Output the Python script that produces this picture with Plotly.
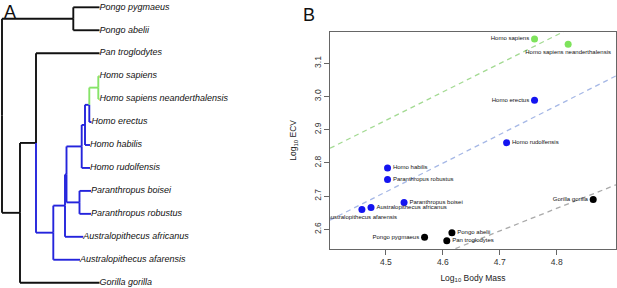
import plotly.graph_objects as go

# ---------------- Panel A data: phylogeny ----------------
tip_names = [
    "Pongo pygmaeus", "Pongo abelii", "Pan troglodytes", "Homo sapiens",
    "Homo sapiens neanderthalensis", "Homo erectus", "Homo habilis",
    "Homo rudolfensis", "Paranthropus boisei", "Paranthropus robustus",
    "Australopithecus africanus", "Australopithecus afarensis", "Gorilla gorilla",
]
edge_parent = ["root", "Pongo", "Pongo", "root", "Homininae", "Homininae", "PanHom", "PanHom",
               "N1", "N1", "Nafr", "Nafr", "NHP", "Par", "Par", "NHP", "H1", "H1", "H2", "H2",
               "H3", "H3", "H4", "H4"]
edge_child = ["Pongo", "Pongo pygmaeus", "Pongo abelii", "Homininae", "Gorilla gorilla", "PanHom",
              "Pan troglodytes", "N1", "Australopithecus afarensis", "Nafr",
              "Australopithecus africanus", "NHP", "Par", "Paranthropus boisei",
              "Paranthropus robustus", "H1", "Homo rudolfensis", "H2", "Homo habilis", "H3",
              "Homo erectus", "H4", "Homo sapiens", "Homo sapiens neanderthalensis"]
edge_length = [71.3, 26.2, 26.2, 18.0, 79.5, 16.0, 63.5, 17.3,
               26.7, 11.7, 18.3, 1.5, 13.0, 11.5, 11.5, 15.2, 8.3, 3.3, 5.0, 4.3,
               2.2, 9.0, 1.2, 1.2]
edge_clade = ["ape", "ape", "ape", "ape", "ape", "ape", "ape", "hominin",
              "hominin", "hominin", "hominin", "hominin", "hominin", "hominin", "hominin",
              "hominin", "hominin", "hominin", "hominin", "hominin",
              "hominin", "sapiens", "sapiens", "sapiens"]

# ---------------- Panel B data ----------------
species = ["Homo sapiens", "Homo sapiens neanderthalensis", "Homo erectus", "Homo rudolfensis",
           "Homo habilis", "Paranthropus robustus", "Paranthropus boisei",
           "Australopithecus africanus", "Australopithecus afarensis", "Gorilla gorilla",
           "Pongo abelii", "Pongo pygmaeus", "Pan troglodytes"]
log_body_mass = [4.761, 4.820, 4.761, 4.712, 4.503, 4.503, 4.532, 4.474, 4.458, 4.864,
                 4.616, 4.568, 4.607]
log_ecv = [3.173, 3.157, 2.989, 2.861, 2.785, 2.750, 2.681, 2.666, 2.660, 2.690,
           2.590, 2.576, 2.566]
species_clade = ["sapiens", "sapiens", "hominin", "hominin", "hominin", "hominin", "hominin",
                 "hominin", "hominin", "ape", "ape", "ape", "ape"]
fit_clade = ["sapiens", "hominin", "ape"]
fit_intercept = [-0.924, -1.1775, -0.6055]
fit_slope = [0.856, 0.8645, 0.681]
x_ticks = [4.5, 4.6, 4.7, 4.8]
y_ticks = [2.6, 2.7, 2.8, 2.9, 3.0, 3.1]

# ---------------- styles ----------------
W, H = 617, 288
FONT = "Liberation Sans, Arial, Helvetica, sans-serif"
tree_color = {"ape": "#111111", "hominin": "#2424DC", "sapiens": "#86E468"}
point_color = {"ape": "#000000", "hominin": "#1414F0", "sapiens": "#7EE35C"}
fit_color = {"sapiens": "#A3DA92", "hominin": "#A6B8E6", "ape": "#AAAAAA"}
label_pos = {
    "Homo sapiens": "middle left", "Homo sapiens neanderthalensis": "bottom center",
    "Homo erectus": "middle left", "Homo rudolfensis": "middle right",
    "Homo habilis": "middle right", "Paranthropus robustus": "middle right",
    "Paranthropus boisei": "middle right", "Australopithecus africanus": "middle right",
    "Australopithecus afarensis": "bottom center", "Gorilla gorilla": "middle left",
    "Pongo abelii": "middle right", "Pongo pygmaeus": "middle left",
    "Pan troglodytes": "middle right",
}

# ---------------- tree layout ----------------
children = {}
blen = {}
eclade = {}
for p, c, l, g in zip(edge_parent, edge_child, edge_length, edge_clade):
    children.setdefault(p, []).append(c)
    blen[c] = l
    eclade[c] = g
depth = {"root": 0.0}
queue = ["root"]
for n in queue:
    for c in children.get(n, []):
        depth[c] = depth[n] + blen[c]
        queue.append(c)
ypos = {t: i for i, t in enumerate(tip_names)}


def node_y(n):
    if n not in ypos:
        ys = [node_y(c) for c in children[n]]
        ypos[n] = sum(ys) / len(ys)
    return ypos[n]


node_y("root")

fig = go.Figure()

seg = {k: ([], []) for k in tree_color}
for p, c in zip(edge_parent, edge_child):
    xs, ys = seg[eclade[c]]
    xs += [depth[p], depth[c], None, depth[p], depth[p], None]
    ys += [ypos[c], ypos[c], None, ypos[p], ypos[c], None]
for k, (xs, ys) in seg.items():
    fig.add_trace(go.Scatter(x=xs, y=ys, mode="lines", xaxis="x2", yaxis="y2",
                             line=dict(color=tree_color[k], width=1.9),
                             hoverinfo="skip", showlegend=False))

fig.add_trace(go.Scatter(
    x=[depth[t] for t in tip_names], y=[ypos[t] for t in tip_names],
    mode="text", text=["<i>%s</i>" % t for t in tip_names],
    textposition="middle right", xaxis="x2", yaxis="y2", cliponaxis=False,
    textfont=dict(family=FONT, size=9, color="#111111"),
    hoverinfo="skip", showlegend=False))

# ---------------- scatter ----------------
XR = [4.402, 4.904]
YR = [2.541, 3.195]
for k, a, b in zip(fit_clade, fit_intercept, fit_slope):
    fig.add_trace(go.Scatter(x=XR, y=[a + b * XR[0], a + b * XR[1]], mode="lines",
                             line=dict(color=fit_color[k], width=1.3, dash="5px,4px"),
                             hoverinfo="skip", showlegend=False))

for k in ["ape", "hominin", "sapiens"]:
    idx = [i for i, g in enumerate(species_clade) if g == k]
    fig.add_trace(go.Scatter(
        x=[log_body_mass[i] for i in idx], y=[log_ecv[i] for i in idx],
        mode="markers+text", text=[species[i] for i in idx],
        textposition=[label_pos[species[i]] for i in idx],
        marker=dict(color=point_color[k], size=7),
        textfont=dict(family=FONT, size=6, color="#111111"),
        cliponaxis=True, showlegend=False))

axis_common = dict(showline=True, mirror=True, linecolor="#666666", linewidth=1,
                   ticks="outside", ticklen=5, tickcolor="#666666", showgrid=False,
                   zeroline=False, tickfont=dict(family=FONT, size=8.5, color="#333333"))

fig.update_layout(
    width=W, height=H, margin=dict(l=0, r=0, t=0, b=0),
    paper_bgcolor="white", plot_bgcolor="white",
    xaxis=dict(domain=[330 / W, 616 / W], range=XR, tickvals=x_ticks,
               ticktext=[str(v) for v in x_ticks],
               title=dict(text="Log<sub>10</sub> Body Mass", standoff=8,
                          font=dict(family=FONT, size=8.5, color="#222222")),
               **axis_common),
    yaxis=dict(domain=[(H - 249) / H, (H - 31.7) / H], range=YR, tickvals=y_ticks,
               ticktext=["%.1f" % v for v in y_ticks], tickangle=-90,
               title=dict(text="Log<sub>10</sub> ECV", standoff=14,
                          font=dict(family=FONT, size=8.5, color="#222222")),
               **axis_common),
    xaxis2=dict(domain=[0, 0.5], range=[-2, 0.5 * W - 2], visible=False),
    yaxis2=dict(domain=[0, 1], range=[(H - 7.3) / 22.95, -7.3 / 22.95], visible=False),
    annotations=[
        dict(text="A", x=2 / W, y=1 - 0 / H, xref="paper", yref="paper",
             xanchor="left", yanchor="top", showarrow=False,
             font=dict(family=FONT, size=18, color="#111111")),
        dict(text="B", x=301 / W, y=1 - 3 / H, xref="paper", yref="paper",
             xanchor="left", yanchor="top", showarrow=False,
             font=dict(family=FONT, size=18, color="#111111")),
    ],
)

fig.write_html("out.html", config={"displayModeBar": False},
               post_script="document.body.style.margin='0px';document.body.style.padding='0px';")
